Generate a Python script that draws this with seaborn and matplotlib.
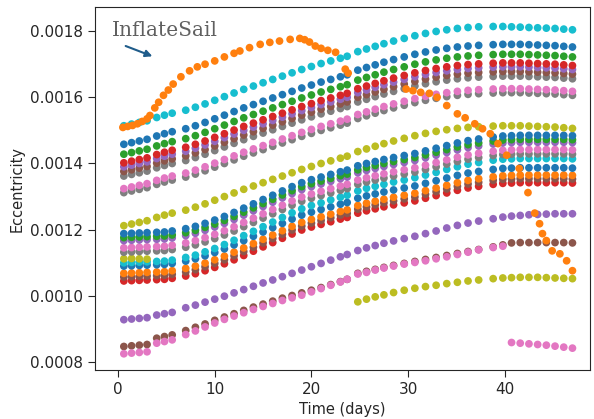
import pandas as pd
import seaborn as sns
import matplotlib.pyplot as plt
from matplotlib.ticker import FormatStrFormatter

# observation times shared by most objects (days)
days = [0.6, 1.4, 2.2, 3.0, 4.0, 4.8, 5.6, 7.0, 8.0, 9.0, 10.0, 11.0, 12.0, 13.0, 14.0, 15.0,
        16.0, 17.0, 18.0, 19.0, 20.0, 21.0, 22.0, 23.0, 23.7, 24.8, 25.7, 26.6, 27.5, 28.5,
        29.6, 30.7, 31.8, 32.9, 34.0, 35.1, 36.2, 37.3, 38.8, 39.8, 40.7, 41.6, 42.5, 43.4,
        44.3, 45.2, 46.1, 47.0]

# eccentricity, in units of 1e-4
hi_cyan = [15.14, 15.19, 15.24, 15.29, 15.39, 15.46, 15.52, 15.61, 15.70, 15.80, 15.91, 16.02, 16.13, 16.24, 16.34, 16.44,
           16.54, 16.64, 16.74, 16.84, 16.93, 17.02, 17.10, 17.18, 17.24, 17.38, 17.46, 17.54, 17.62, 17.70,
           17.78, 17.86, 17.93, 17.99, 18.04, 18.08, 18.11, 18.13, 18.14, 18.14, 18.13, 18.12, 18.11, 18.10,
           18.09, 18.08, 18.06, 18.04]
hi_blue = [14.58, 14.63, 14.68, 14.73, 14.83, 14.90, 14.96, 15.05, 15.14, 15.24, 15.35, 15.46, 15.57, 15.68, 15.78, 15.88,
           15.98, 16.08, 16.18, 16.28, 16.37, 16.46, 16.54, 16.62, 16.68, 16.82, 16.90, 16.98, 17.06, 17.14,
           17.22, 17.30, 17.37, 17.43, 17.48, 17.52, 17.55, 17.57, 17.59, 17.60, 17.60, 17.60, 17.59, 17.58,
           17.57, 17.56, 17.54, 17.52]
hi_green = [14.28, 14.33, 14.38, 14.43, 14.53, 14.60, 14.66, 14.75, 14.84, 14.94, 15.05, 15.16, 15.27, 15.38, 15.48, 15.58,
            15.68, 15.78, 15.88, 15.98, 16.07, 16.16, 16.24, 16.32, 16.38, 16.52, 16.60, 16.68, 16.76, 16.84,
            16.92, 17.00, 17.07, 17.13, 17.18, 17.22, 17.25, 17.27, 17.29, 17.30, 17.30, 17.30, 17.29, 17.28,
            17.27, 17.26, 17.24, 17.22]
hi_red = [14.02, 14.07, 14.12, 14.17, 14.27, 14.34, 14.40, 14.49, 14.58, 14.68, 14.79, 14.90, 15.01, 15.12, 15.22, 15.32,
          15.42, 15.52, 15.62, 15.72, 15.81, 15.90, 15.98, 16.06, 16.12, 16.26, 16.34, 16.42, 16.50, 16.58,
          16.66, 16.74, 16.81, 16.87, 16.92, 16.96, 16.99, 17.01, 17.03, 17.04, 17.04, 17.04, 17.03, 17.02,
          17.01, 17.00, 16.98, 16.96]
hi_purple = [13.90, 13.95, 14.00, 14.05, 14.15, 14.22, 14.28, 14.37, 14.46, 14.56, 14.67, 14.78, 14.89, 15.00, 15.10, 15.20,
             15.30, 15.40, 15.50, 15.60, 15.69, 15.78, 15.86, 15.94, 16.00, 16.14, 16.22, 16.30, 16.38, 16.46,
             16.54, 16.62, 16.69, 16.75, 16.80, 16.84, 16.87, 16.89, 16.91, 16.92, 16.92, 16.92, 16.91, 16.90,
             16.89, 16.88, 16.86, 16.84]
hi_brown = [13.76, 13.81, 13.86, 13.91, 14.01, 14.08, 14.14, 14.23, 14.32, 14.42, 14.53, 14.64, 14.75, 14.86, 14.96, 15.06,
            15.16, 15.26, 15.36, 15.46, 15.55, 15.64, 15.72, 15.80, 15.86, 16.00, 16.08, 16.16, 16.24, 16.32,
            16.40, 16.48, 16.55, 16.61, 16.66, 16.70, 16.73, 16.75, 16.77, 16.78, 16.78, 16.78, 16.77, 16.76,
            16.75, 16.74, 16.72, 16.70]
hi_gray = [13.62, 13.67, 13.72, 13.77, 13.87, 13.94, 14.00, 14.09, 14.18, 14.28, 14.39, 14.50, 14.61, 14.72, 14.82, 14.92,
           15.02, 15.12, 15.22, 15.32, 15.41, 15.50, 15.58, 15.66, 15.72, 15.86, 15.94, 16.02, 16.10, 16.18,
           16.26, 16.34, 16.41, 16.47, 16.52, 16.56, 16.59, 16.61, 16.63, 16.64, 16.64, 16.64, 16.63, 16.62,
           16.61, 16.60, 16.58, 16.56]
hi_pink = [13.24, 13.29, 13.34, 13.39, 13.49, 13.56, 13.62, 13.71, 13.80, 13.90, 14.01, 14.12, 14.23, 14.34, 14.44, 14.54,
           14.64, 14.74, 14.84, 14.94, 15.03, 15.12, 15.20, 15.28, 15.34, 15.48, 15.56, 15.64, 15.72, 15.80,
           15.88, 15.96, 16.03, 16.09, 16.14, 16.18, 16.21, 16.23, 16.25, 16.26, 16.26, 16.26, 16.25, 16.24,
           16.23, 16.22, 16.20, 16.18]
hi_gray2 = [13.12, 13.17, 13.22, 13.27, 13.37, 13.44, 13.50, 13.59, 13.68, 13.78, 13.89, 14.00, 14.11, 14.22, 14.32, 14.42,
            14.52, 14.62, 14.72, 14.82, 14.91, 15.00, 15.08, 15.16, 15.22, 15.36, 15.44, 15.52, 15.60, 15.68,
            15.76, 15.84, 15.91, 15.97, 16.02, 16.06, 16.09, 16.11, 16.13, 16.14, 16.14, 16.14, 16.13, 16.12,
            16.11, 16.10, 16.08, 16.06]

lo_olive = [12.12, 12.17, 12.22, 12.27, 12.37, 12.44, 12.50, 12.59, 12.68, 12.78, 12.89, 13.00, 13.11, 13.22, 13.32, 13.42,
            13.52, 13.62, 13.72, 13.82, 13.91, 14.00, 14.08, 14.16, 14.22, 14.36, 14.44, 14.52, 14.60, 14.68,
            14.76, 14.84, 14.91, 14.97, 15.02, 15.06, 15.09, 15.11, 15.13, 15.14, 15.14, 15.14, 15.13, 15.12,
            15.11, 15.10, 15.08, 15.06]
lo_blue = [11.88, 11.89, 11.90, 11.91, 11.92, 11.93, 11.96, 12.03, 12.10, 12.19, 12.29, 12.40, 12.52, 12.65, 12.78, 12.91,
           13.04, 13.17, 13.30, 13.42, 13.51, 13.59, 13.67, 13.75, 13.80, 13.93, 14.00, 14.06, 14.12, 14.18,
           14.24, 14.30, 14.38, 14.46, 14.54, 14.62, 14.69, 14.74, 14.80, 14.83, 14.84, 14.85, 14.85, 14.85,
           14.85, 14.85, 14.85, 14.84]
lo_green = [11.76, 11.77, 11.78, 11.79, 11.80, 11.81, 11.84, 11.91, 11.98, 12.07, 12.17, 12.28, 12.40, 12.53, 12.66, 12.79,
            12.92, 13.05, 13.18, 13.30, 13.39, 13.47, 13.55, 13.63, 13.68, 13.81, 13.88, 13.94, 14.00, 14.06,
            14.12, 14.18, 14.26, 14.34, 14.42, 14.50, 14.57, 14.62, 14.68, 14.71, 14.72, 14.73, 14.73, 14.73,
            14.73, 14.73, 14.73, 14.72]
lo_purple = [11.67, 11.68, 11.69, 11.70, 11.71, 11.72, 11.75, 11.82, 11.89, 11.98, 12.08, 12.19, 12.31, 12.44, 12.57, 12.70,
             12.83, 12.96, 13.09, 13.21, 13.30, 13.38, 13.46, 13.54, 13.59, 13.72, 13.79, 13.85, 13.91, 13.97,
             14.03, 14.09, 14.17, 14.25, 14.33, 14.41, 14.48, 14.53, 14.59, 14.62, 14.63, 14.64, 14.64, 14.64,
             14.64, 14.64, 14.64, 14.63]
lo_pink = [11.45, 11.46, 11.47, 11.48, 11.49, 11.50, 11.53, 11.60, 11.67, 11.76, 11.86, 11.97, 12.09, 12.22, 12.35, 12.48,
           12.61, 12.74, 12.87, 12.99, 13.08, 13.16, 13.24, 13.32, 13.37, 13.50, 13.57, 13.63, 13.69, 13.75,
           13.81, 13.87, 13.95, 14.03, 14.11, 14.19, 14.26, 14.31, 14.37, 14.40, 14.41, 14.42, 14.42, 14.42,
           14.42, 14.42, 14.42, 14.41]
lo_gray = [11.32, 11.33, 11.34, 11.35, 11.36, 11.37, 11.40, 11.47, 11.54, 11.63, 11.73, 11.84, 11.96, 12.09, 12.22, 12.35,
           12.48, 12.61, 12.74, 12.86, 12.95, 13.03, 13.11, 13.19, 13.24, 13.37, 13.44, 13.50, 13.56, 13.62,
           13.68, 13.74, 13.82, 13.90, 13.98, 14.06, 14.13, 14.18, 14.24, 14.27, 14.28, 14.29, 14.29, 14.29,
           14.29, 14.29, 14.29, 14.28]
lo_cyan = [11.00, 11.01, 11.02, 11.03, 11.04, 11.05, 11.08, 11.16, 11.23, 11.33, 11.43, 11.55, 11.68, 11.82, 11.95, 12.09,
           12.23, 12.37, 12.51, 12.63, 12.73, 12.81, 12.90, 12.98, 13.04, 13.17, 13.25, 13.31, 13.37, 13.44,
           13.50, 13.57, 13.65, 13.73, 13.82, 13.90, 13.98, 14.03, 14.10, 14.13, 14.14, 14.15, 14.15, 14.15,
           14.15, 14.15, 14.15, 14.14]
lo_blue2 = [10.90, 10.91, 10.92, 10.93, 10.94, 10.95, 10.98, 11.05, 11.12, 11.21, 11.31, 11.42, 11.54, 11.67, 11.80, 11.93,
            12.06, 12.19, 12.32, 12.44, 12.53, 12.61, 12.69, 12.77, 12.82, 12.95, 13.02, 13.08, 13.14, 13.20,
            13.26, 13.32, 13.40, 13.48, 13.56, 13.64, 13.71, 13.76, 13.82, 13.85, 13.86, 13.87, 13.87, 13.87,
            13.87, 13.87, 13.87, 13.86]
lo_orange = [10.68, 10.69, 10.70, 10.71, 10.72, 10.73, 10.76, 10.83, 10.90, 10.99, 11.09, 11.20, 11.32, 11.45, 11.58, 11.71,
             11.84, 11.97, 12.10, 12.22, 12.31, 12.39, 12.47, 12.55, 12.60, 12.73, 12.80, 12.86, 12.92, 12.98,
             13.04, 13.10, 13.18, 13.26, 13.34, 13.42, 13.49, 13.54, 13.60, 13.63, 13.64, 13.65, 13.65, 13.65,
             13.65, 13.65, 13.65, 13.64]
lo_brown = [10.57, 10.58, 10.59, 10.60, 10.61, 10.62, 10.65, 10.72, 10.79, 10.88, 10.98, 11.09, 11.21, 11.34, 11.47, 11.60,
            11.73, 11.86, 11.99, 12.11, 12.20, 12.28, 12.36, 12.44, 12.49, 12.62, 12.69, 12.75, 12.81, 12.87,
            12.93, 12.99, 13.07, 13.15, 13.23, 13.31, 13.38, 13.43, 13.49, 13.52, 13.53, 13.54, 13.54, 13.54,
            13.54, 13.54, 13.54, 13.53]
lo_red = [10.45, 10.46, 10.47, 10.48, 10.49, 10.50, 10.53, 10.60, 10.67, 10.76, 10.86, 10.97, 11.09, 11.22, 11.35, 11.48,
          11.61, 11.74, 11.87, 11.99, 12.08, 12.16, 12.24, 12.32, 12.37, 12.50, 12.57, 12.63, 12.69, 12.75,
          12.81, 12.87, 12.95, 13.03, 13.11, 13.19, 13.26, 13.31, 13.37, 13.40, 13.41, 13.42, 13.42, 13.42,
          13.42, 13.42, 13.42, 13.41]
mid_olive = [11.12, 11.13, 11.12, 11.11]

low_purple = [9.28, 9.30, 9.32, 9.34, 9.42, 9.46, 9.50, 9.64, 9.72, 9.81, 9.90, 9.99, 10.09, 10.19, 10.29, 10.39,
              10.48, 10.58, 10.68, 10.78, 10.88, 10.98, 11.08, 11.18, 11.25, 11.37, 11.45, 11.52, 11.59, 11.66,
              11.73, 11.80, 11.88, 11.96, 12.05, 12.13, 12.20, 12.26, 12.33, 12.38, 12.41, 12.43, 12.45, 12.46,
              12.47, 12.48, 12.48, 12.48]
low_brown = [8.47, 8.49, 8.51, 8.53, 8.72, 8.77, 8.82, 8.95, 9.05, 9.15, 9.26, 9.36, 9.46, 9.56, 9.66, 9.75,
             9.84, 9.93, 10.01, 10.09, 10.17, 10.25, 10.34, 10.43, 10.50, 10.68, 10.74, 10.80, 10.86, 10.92,
             10.98, 11.04, 11.10, 11.16, 11.22, 11.28, 11.34, 11.40, 11.48, 11.54, 11.60, 11.61, 11.61, 11.61,
             11.61, 11.61, 11.61, 11.60]
low_pink = [8.25, 8.27, 8.29, 8.31, 8.57, 8.62, 8.67, 8.83, 8.94, 9.06, 9.18, 9.29, 9.39, 9.49, 9.59, 9.68,
            9.77, 9.86, 9.94, 10.02, 10.12, 10.22, 10.32, 10.42, 10.50, 10.66, 10.71, 10.78, 10.84, 10.90,
            10.96, 11.01, 11.06, 11.12, 11.18, 11.25, 11.32, 11.39, 11.46, 11.50]
late_olive = [None] * 25 + [9.82, 9.90, 9.97, 10.03, 10.10, 10.17, 10.23, 10.28, 10.32, 10.37, 10.41, 10.45,
                            10.48, 10.52, 10.54, 10.55, 10.56, 10.56, 10.56, 10.55, 10.54, 10.53, 10.52]
late_pink = [None] * 40 + [8.59, 8.57, 8.55, 8.53, 8.51, 8.48, 8.45, 8.42]

# InflateSail has its own, sparser record
sail_days = [0.5, 1.0, 1.5, 2.0, 2.5, 3.0, 3.3, 3.8, 4.2, 4.7, 5.2, 5.7, 6.5, 7.4, 8.2, 9.0, 10.0,
             11.0, 12.0, 12.6, 13.6, 14.7, 15.7, 16.7, 17.8, 18.8, 19.3, 19.8, 20.4, 21.0, 21.7, 22.5,
             23.5, 23.8, 29.8, 30.5, 31.3, 32.2, 33.0, 34.0, 35.1, 35.9, 36.9, 37.7, 38.5, 39.3, 40.2,
             41.5, 42.4, 43.1, 43.6, 43.9, 44.3, 44.9, 45.7, 46.4, 47.0]
sail_ecc = [15.09, 15.12, 15.15, 15.20, 15.27, 15.35, 15.45, 15.68, 15.85, 16.06, 16.22, 16.40, 16.62, 16.80, 16.92, 17.00, 17.10,
            17.22, 17.33, 17.40, 17.50, 17.60, 17.66, 17.70, 17.75, 17.78, 17.74, 17.67, 17.55, 17.48, 17.42, 17.36,
            16.85, 16.73, 16.25, 16.20, 16.15, 16.12, 16.00, 15.75, 15.50, 15.38, 15.20, 15.05, 14.90, 14.60, 14.25,
            13.85, 13.12, 12.50, 12.18, 11.88, 11.67, 11.36, 11.27, 11.06, 10.76]

tab = sns.color_palette("tab10").as_hex()
blue, orange, green, red, purple, brown, pink, gray, olive, cyan = tab

# draw order = list order
series = [
    ("lo_red", red, lo_red), ("lo_brown", brown, lo_brown), ("lo_orange", orange, lo_orange),
    ("lo_blue2", blue, lo_blue2), ("lo_cyan", cyan, lo_cyan), ("mid_olive", olive, mid_olive),
    ("lo_gray", gray, lo_gray), ("lo_pink", pink, lo_pink), ("lo_purple", purple, lo_purple),
    ("lo_green", green, lo_green), ("lo_blue", blue, lo_blue), ("lo_olive", olive, lo_olive),
    ("hi_gray2", gray, hi_gray2), ("hi_pink", pink, hi_pink), ("hi_gray", gray, hi_gray),
    ("hi_brown", brown, hi_brown), ("hi_purple", purple, hi_purple), ("hi_red", red, hi_red),
    ("hi_green", green, hi_green), ("hi_blue", blue, hi_blue), ("hi_cyan", cyan, hi_cyan),
    ("low_brown", brown, low_brown), ("low_pink", pink, low_pink), ("low_purple", purple, low_purple),
    ("late_olive", olive, late_olive), ("late_pink", pink, late_pink),
]

rows = []
for name, colour, vals in series:
    for d, v in zip(days, vals):
        if v is not None:
            rows.append((name, d, v * 1e-4))
for d, v in zip(sail_days, sail_ecc):
    rows.append(("InflateSail", d, v * 1e-4))
df = pd.DataFrame(rows, columns=["object", "Time (days)", "Eccentricity"])
palette = {name: colour for name, colour, _ in series}
palette["InflateSail"] = orange

sns.set_style("ticks")
fig, ax = plt.subplots(figsize=(5.94, 4.19), dpi=100)
fig.subplots_adjust(left=0.16, right=0.993, bottom=0.117, top=0.983)

sns.scatterplot(data=df, x="Time (days)", y="Eccentricity", hue="object", palette=palette,
                s=31, linewidth=0, legend=False, ax=ax)

ax.set_xlim(-2.38, 48.8)
ax.set_ylim(0.000776, 0.0018725)
ax.set_xticks([0, 10, 20, 30, 40])
ax.set_yticks([0.0008, 0.0010, 0.0012, 0.0014, 0.0016, 0.0018])
ax.yaxis.set_major_formatter(FormatStrFormatter("%.4f"))
ax.tick_params(labelsize=11, length=5)
ax.set_xlabel("Time (days)", fontsize=10.5)
ax.set_ylabel("Eccentricity", fontsize=10.5)

ax.text(-0.62, 0.001785, "InflateSail", family="DejaVu Serif", fontsize=14.5,
        color="#606060", ha="left", va="baseline")
ax.annotate("", xy=(3.82, 0.001721), xytext=(0.52, 0.001758),
            arrowprops=dict(arrowstyle="-|>", color="#1f5c8a", lw=1.5, mutation_scale=10))

fig.savefig("out.png", dpi=100)
